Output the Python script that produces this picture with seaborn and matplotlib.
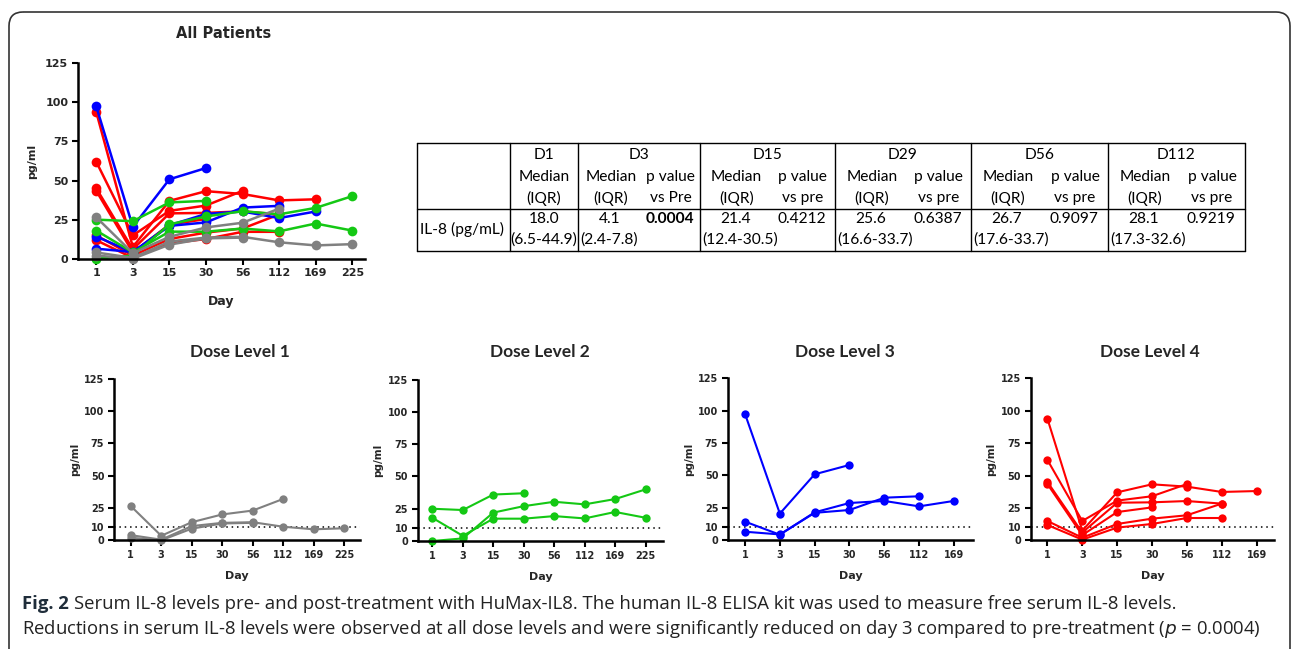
import numpy as np
import pandas as pd
import matplotlib.pyplot as plt
from matplotlib.patches import FancyBboxPatch
import seaborn as sns

# ---------------- data
days = ['1', '3', '15', '30', '56', '112', '169', '225']

dose1_pts = [
    [26.5, 3.5, 14, 20, 23, 32],
    [4, 0.5, 11, 13.5, 14, 10.5, 8.5, 9.3],
    [2, 0, 9, 13, 13.5],
]
dose2_pts = [
    [25, 24, 36, 37],
    [18, 4, 17.3, 17.3, 19.3, 17.5, 22.5, 18],
    [0, 2, 22, 27, 30.4, 28.4, 32.5, 40],
]
dose3_pts = [
    [97.4, 20.4, 50.8, 58],
    [14.2, 4.1, 21.4, 28.6, 30.2, 26, 30.2],
    [6.4, 4.3, 21, 23.2, 32.7, 33.8],
]
dose4_pts = [
    [93.8, 7.5, 37, 43.2, 41.4, 37.3, 38],
    [62, 14.9, 30.6, 34, 43.4],
    [45, 6, 29, 29.3, 30.3, 28.3],
    [43.4, 4, 21.8, 25.4],
    [14.9, 2, 12.6, 16.7, 19.3, 28.3],
    [11.8, 0.5, 9.8, 12.6, 17.2, 17.2],
]

dose_names = ['Dose Level 1', 'Dose Level 2', 'Dose Level 3', 'Dose Level 4']
dose_colors = ['#808080', '#14C814', '#0000FF', '#FF0000']
dose_ndays = [8, 8, 7, 7]

tab_days = ['D1', 'D3', 'D15', 'D29', 'D56', 'D112']
tab_median = ['18.0', '4.1', '21.4', '25.6', '26.7', '28.1']
tab_iqr = ['(6.5-44.9)', '(2.4-7.8)', '(12.4-30.5)', '(16.6-33.7)', '(17.6-33.7)', '(17.3-32.6)']
tab_p = ['', '0.0004', '0.4212', '0.6387', '0.9097', '0.9219']

rows = []
for d, pts in enumerate([dose1_pts, dose2_pts, dose3_pts, dose4_pts]):
    for p, vals in enumerate(pts):
        for i, v in enumerate(vals):
            rows.append({'dose': d, 'patient': f'{d}-{p}', 'pos': i, 'value': v})
df = pd.DataFrame(rows)

# ---------------- figure
sns.set_style('ticks')
plt.rcParams['font.family'] = ['DejaVu Sans']
W, H = 1292, 649
fig = plt.figure(figsize=(W / 100, H / 100), dpi=100)


def box(x0, y0, x1, y1):
    return [x0 / W, 1 - y1 / H, (x1 - x0) / W, (y1 - y0) / H]


def style_axes(ax, ndays, yticks, fs):
    ax.set_ylim(0, 125)
    ax.set_xticks(range(ndays))
    ax.set_xticklabels(days[:ndays], fontsize=fs, fontweight='bold')
    ax.set_yticks(yticks)
    ax.set_yticklabels([str(t) for t in yticks], fontsize=fs, fontweight='bold')
    for s in ['top', 'right']:
        ax.spines[s].set_visible(False)
    for s in ['left', 'bottom']:
        ax.spines[s].set_linewidth(1.8)
        ax.spines[s].set_color('black')
    ax.tick_params(axis='both', length=4, width=1.5, color='black', pad=3)
    ax.set_facecolor('none')


def draw_lines(ax, sub, color, lw=1.6, ms=6.5):
    sns.lineplot(data=sub, x='pos', y='value', units='patient', estimator=None,
                 color=color, marker='o', markersize=ms, markeredgewidth=0,
                 linewidth=lw, clip_on=False, ax=ax, legend=False)


# All patients panel
ax0 = fig.add_axes(box(78, 63.3, 365, 258.7))
for d in [3, 2, 1, 0]:
    draw_lines(ax0, df[df.dose == d], dose_colors[d], lw=1.8, ms=7)
ax0.set_xlim(-0.5, 7.35)
style_axes(ax0, 8, [0, 25, 50, 75, 100, 125], 8)
ax0.set_xlabel('Day', fontsize=9, fontweight='bold', labelpad=12)
ax0.set_ylabel('pg/ml', fontsize=8, fontweight='bold', labelpad=6)
fig.text(224 / W, 1 - 33 / H, 'All Patients', fontsize=10.5, fontweight='bold',
         ha='center', va='center')

# dose level panels
panel_boxes = [(114, 378.7, 360, 540.3), (417.7, 379.7, 663, 541),
               (728, 378.3, 973, 540), (1030.7, 378.3, 1274, 540.3)]
panel_xlims = [(-0.55, 7.52), (-0.48, 7.57), (-0.49, 6.55), (-0.48, 6.5)]
title_x = [240, 540, 845, 1150]
for d in range(4):
    ax = fig.add_axes(box(*panel_boxes[d]))
    ax.axhline(10, color='black', linestyle=(0, (1, 2.5)), linewidth=1.1, zorder=1)
    draw_lines(ax, df[df.dose == d], dose_colors[d], lw=1.5, ms=6)
    ax.set_xlim(*panel_xlims[d])
    style_axes(ax, dose_ndays[d], [0, 10, 25, 50, 75, 100, 125], 7)
    ax.set_xlabel('Day', fontsize=8, fontweight='bold', labelpad=8)
    ax.set_ylabel('pg/ml', fontsize=7.5, fontweight='bold', labelpad=3)
    fig.text(title_x[d] / W, 1 - 352 / H, dose_names[d], fontsize=12.5,
             fontweight='bold', family='Lato', ha='center', va='center')

# ---------------- table
axt = fig.add_axes([0, 0, 1, 1])
axt.set_xlim(0, W)
axt.set_ylim(H, 0)
axt.axis('off')
col_x = [417, 510, 578, 700, 835, 971, 1108, 1245]
t_top, t_mid, t_bot = 143, 209, 251
lc = 'black'
for x in col_x:
    axt.plot([x, x], [t_top, t_bot], color=lc, lw=1.0)
axt.plot([col_x[0], col_x[-1]], [t_top, t_top], color=lc, lw=1.0)
axt.plot([col_x[0], col_x[-1]], [t_mid, t_mid], color=lc, lw=1.0)
axt.plot([col_x[0], col_x[-1]], [t_bot, t_bot], color=lc, lw=1.0)

tf = dict(family='Lato', fontsize=11.2, va='center', color='black')
axt.text(420, 229, 'IL-8 (pg/mL)', ha='left', **tf)
for i in range(6):
    x0, x1 = col_x[i + 1], col_x[i + 2]
    xc = (x0 + x1) / 2
    axt.text(xc, 155, tab_days[i], ha='center', **tf)
    if i == 0:
        axt.text(xc, 177, 'Median', ha='center', **tf)
        axt.text(xc, 198, '(IQR)', ha='center', **tf)
        axt.text(xc, 219, tab_median[i], ha='center', **tf)
        axt.text(xc, 240, tab_iqr[i], ha='center', **tf)
    else:
        xm = x0 + (x1 - x0) * 0.27
        xp = x0 + (x1 - x0) * 0.76
        pv = 'vs Pre' if i == 1 else 'vs pre'
        axt.text(xm, 177, 'Median', ha='center', **tf)
        axt.text(xm, 198, '(IQR)', ha='center', **tf)
        axt.text(xp, 177, 'p value', ha='center', **tf)
        axt.text(xp, 198, pv, ha='center', **tf)
        axt.text(xm - 1, 219, tab_median[i], ha='center', **tf)
        axt.text(xp - 1, 219, tab_p[i], ha='center',
                 fontweight='bold' if i == 1 else 'normal', **tf)
        axt.text(x0 + 2, 240, tab_iqr[i], ha='left', **tf)

# ---------------- frame and caption
frame = FancyBboxPatch((9, 12), 1281, 700, boxstyle='round,pad=0,rounding_size=14',
                       fill=False, edgecolor='#333333', linewidth=1.2)
axt.add_patch(frame)

cap_fs = 13.3
fig_lbl = axt.text(22, 604, 'Fig. 2', fontweight='bold', family='Open Sans',
                   fontsize=cap_fs, va='center', ha='left', color='#1f2d3a')
fig.canvas.draw()
bb = fig_lbl.get_window_extent().transformed(axt.transData.inverted())
cf = dict(family='Open Sans', fontsize=cap_fs, va='center', ha='left', color='#222222')
axt.text(bb.x1 + 5, 604, 'Serum IL-8 levels pre- and post-treatment with HuMax-IL8. '
         'The human IL-8 ELISA kit was used to measure free serum IL-8 levels.', **cf)
axt.text(22, 629, 'Reductions in serum IL-8 levels were observed at all dose levels '
         'and were significantly reduced on day 3 compared to pre-treatment ($p$ = 0.0004)', **cf)

fig.savefig('out.png', dpi=100)
